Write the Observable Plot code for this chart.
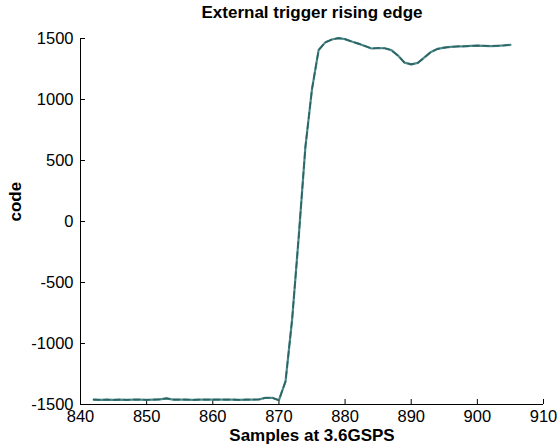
<!DOCTYPE html>
<html>
<head>
<meta charset="utf-8">
<script src="https://cdn.jsdelivr.net/npm/d3@7"></script>
<script src="https://cdn.jsdelivr.net/npm/@observablehq/plot@0.6"></script>
<style>
  html, body { margin: 0; padding: 0; background: #fff; }
  #chart svg { font-family: "Liberation Sans", Arial, sans-serif; }
</style>
</head>
<body>
<div id="chart"></div>
<script>
const titleText = "External trigger rising edge";
const xLabel = "Samples at 3.6GSPS";
const yLabel = "code";
const xTicks = [840, 850, 860, 870, 880, 890, 900, 910];
const yTicks = [-1500, -1000, -500, 0, 500, 1000, 1500];

const samples = [
  842, 843, 844, 845, 846, 847, 848, 849, 850, 851,
  852, 853, 854, 855, 856, 857, 858, 859, 860, 861,
  862, 863, 864, 865, 866, 867, 868, 869, 870, 871,
  872, 873, 874, 875, 876, 877, 878, 879, 880, 881,
  882, 883, 884, 885, 886, 887, 888, 889, 890, 891,
  892, 893, 894, 895, 896, 897, 898, 899, 900, 901,
  902, 903, 904, 905
];
const codes = [
  -1460, -1462, -1460, -1462, -1460, -1462, -1460, -1460, -1462, -1460,
  -1458, -1450, -1460, -1460, -1460, -1462, -1460, -1460, -1460, -1460,
  -1460, -1460, -1462, -1460, -1460, -1458, -1445, -1445, -1465, -1310,
  -800, -120, 610, 1085, 1405, 1468, 1492, 1503, 1495, 1475,
  1458, 1438, 1418, 1422, 1420, 1405, 1360, 1302, 1288, 1300,
  1345, 1390, 1415, 1425, 1432, 1435, 1436, 1440, 1442, 1440,
  1438, 1440, 1443, 1448
];

const data = samples.map((s, i) => ({sample: s, code: codes[i]}));
const fmt = d => String(d);

const chart = Plot.plot({
  width: 559,
  height: 448,
  marginLeft: 80,
  marginRight: 16,
  marginTop: 38,
  marginBottom: 44,
  style: {background: "#fff", color: "#000", fontSize: "16px"},
  x: {domain: [840, 910]},
  y: {domain: [-1500, 1500]},
  marks: [
    Plot.ruleX([840], {stroke: "#000", strokeWidth: 1}),
    Plot.ruleY([-1500], {stroke: "#000", strokeWidth: 1}),
    Plot.axisX({ticks: xTicks, tickFormat: fmt, tickSize: -5, tickPadding: 11, label: null, fontSize: 16.5, stroke: "#000"}),
    Plot.axisY({ticks: yTicks, tickFormat: fmt, tickSize: -5, tickPadding: 12, label: null, fontSize: 16.5, stroke: "#000"}),
    Plot.line(data, {x: "sample", y: "code", stroke: "#4e8c8c", strokeWidth: 2.2}),
    Plot.line(data, {x: "sample", y: "code", stroke: "#2c6262", strokeWidth: 1.6, strokeDasharray: "6,4"}),
    Plot.text([titleText], {frameAnchor: "top", dy: -26, fontSize: 17, fontWeight: "bold", lineAnchor: "middle"}),
    Plot.text([xLabel], {frameAnchor: "bottom", dy: 31, fontSize: 17, fontWeight: "bold", lineAnchor: "middle"}),
    Plot.text([yLabel], {frameAnchor: "left", dx: -65, rotate: -90, fontSize: 17, fontWeight: "bold", lineAnchor: "middle"})
  ]
});
document.getElementById("chart").appendChild(chart);
</script>
</body>
</html>
